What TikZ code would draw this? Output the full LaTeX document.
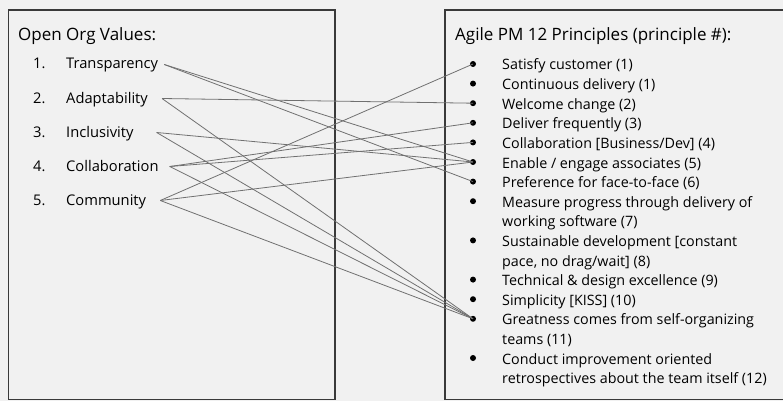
\documentclass[tikz,border=0pt]{standalone}
\usepackage{fontspec}
\setmainfont{Open Sans}
\definecolor{paper}{HTML}{F1F1F1}
\definecolor{frame}{HTML}{3A3A3A}
\definecolor{wire}{HTML}{707070}
\begin{document}
\begin{tikzpicture}[x=1pt,y=-1pt,
  box/.style={draw=frame,line width=1.4pt},
  heading/.style={anchor=base west,inner sep=0pt,font=\fontsize{17}{19}\selectfont},
  num/.style={anchor=base west,inner sep=0pt,font=\fontsize{14.7}{16}\selectfont},
  value/.style={anchor=base west,inner sep=0pt,text height=9pt,text depth=0pt,font=\fontsize{14.7}{16}\selectfont},
  item/.style={anchor=base west,inner sep=0pt,align=left,font=\fontsize{14.3}{19.6}\selectfont},
  dot/.style={circle,fill=black,inner sep=0pt,minimum size=6pt},
  link/.style={draw=wire,line width=0.8pt}]
\fill[paper] (0,0) rectangle (783,401);
\useasboundingbox (0,0) rectangle (783,401);
\clip (0,0) rectangle (783,401);
\draw[box] (8.5,10) rectangle (335,399.5);
\draw[box] (445,10) rectangle (795,399.5);

\node[heading] (left) at (18,41) {Open Org Values:};
\node[heading] (right) at (455,41) {Agile PM 12 Principles (principle \#):};

\foreach \i/\v/\g in {1/Transparency/6,2/Adaptability/14,3/Inclusivity/23,4/Collaboration/11,5/Community/14}{
  \node[num] (n\i) at (33,{35+34*\i}) {\i.};
  \node[value] (v\i) at (66,{35+34*\i}) {\v};
  \coordinate (s\i) at ([xshift=\g pt]v\i.east);
}

\foreach \n/\k/\m/\t in {1/0/0/{Satisfy customer (1)},
  2/1/1/{Continuous delivery (1)},
  3/2/2/{Welcome change (2)},
  4/3/3/{Deliver frequently (3)},
  5/4/4/{Collaboration [Business/Dev] (4)},
  6/5/5/{Enable / engage associates (5)},
  7/6/6/{Preference for face-to-face (6)},
  8/7/8/{Measure progress through delivery of\\working software (7)},
  9/9/10/{Sustainable development [constant\\pace, no drag/wait] (8)},
  10/11/11/{Technical \& design excellence (9)},
  11/12/12/{Simplicity [KISS] (10)},
  12/13/14/{Greatness comes from self-organizing\\teams (11)},
  13/15/16/{Conduct improvement oriented\\retrospectives about the team itself (12)}}{
  \node[dot] (p\n) at (473,{64+19.6*\k}) {};
  \node[item] (t\n) at (502,{70+19.6*\m}) {\t};
}

\foreach \a/\b in {1/6,1/7,2/3,2/12,3/6,3/12,4/4,4/5,4/12,5/1,5/6,5/12}
  \draw[link] (s\a) -- (p\b.center);
\end{tikzpicture}
\end{document}
